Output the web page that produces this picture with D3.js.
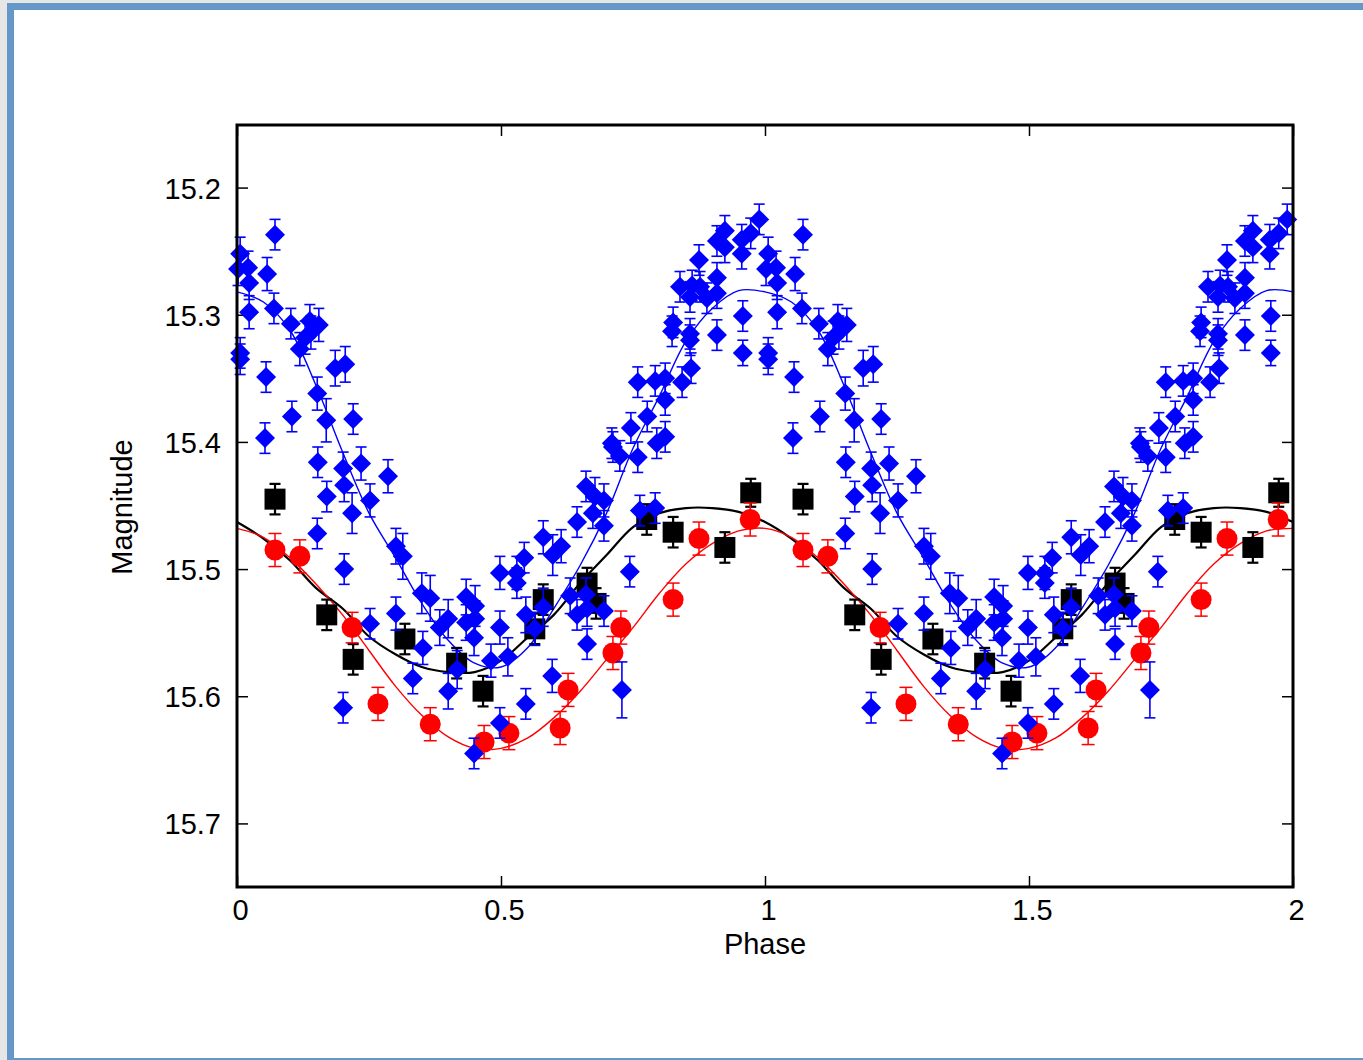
<!DOCTYPE html>
<html>
<head>
<meta charset="utf-8">
<script src="https://cdn.jsdelivr.net/npm/d3@7"></script>
<style>
  body { margin: 0; background: #e6e6e6; overflow: hidden; }
  svg { display: block; }
</style>
</head>
<body>
<svg id="chart" width="1363" height="1060"></svg>
<script>
// phase-folded light curve (phase 0..1, repeated on 1..2)

// [phase, magnitude, error]
var bluePoints = [
  [0.006,15.252,0.013],[0.002,15.264,0.013],[0.021,15.263,0.013],[0.023,15.275,0.013],
  [0.072,15.237,0.012],[0.057,15.268,0.013],[0.023,15.298,0.013],[0.070,15.295,0.012],
  [0.006,15.330,0.012],[0.006,15.335,0.012],[0.055,15.349,0.012],[0.053,15.397,0.012],
  [0.102,15.307,0.012],[0.138,15.305,0.013],[0.155,15.308,0.013],[0.119,15.327,0.013],
  [0.129,15.318,0.013],[0.140,15.314,0.013],[0.186,15.342,0.014],[0.205,15.339,0.014],
  [0.104,15.380,0.012],[0.152,15.362,0.013],[0.169,15.383,0.017],[0.220,15.382,0.012],
  [0.153,15.416,0.012],[0.201,15.421,0.013],[0.235,15.417,0.013],[0.286,15.427,0.013],
  [0.203,15.434,0.013],[0.170,15.443,0.012],[0.218,15.456,0.016],[0.252,15.446,0.013],
  [0.152,15.472,0.012],[0.203,15.500,0.012],[0.301,15.482,0.014],[0.314,15.490,0.018],
  [0.252,15.543,0.012],[0.301,15.535,0.013],[0.350,15.519,0.016],[0.366,15.523,0.018],
  [0.352,15.562,0.013],[0.333,15.586,0.012],[0.201,15.609,0.012],[0.384,15.546,0.014],
  [0.400,15.539,0.015],[0.434,15.522,0.014],[0.451,15.529,0.016],[0.434,15.542,0.014],
  [0.451,15.539,0.014],[0.449,15.554,0.014],[0.400,15.596,0.014],[0.417,15.579,0.015],
  [0.498,15.503,0.013],[0.530,15.503,0.013],[0.530,15.511,0.012],[0.544,15.491,0.012],
  [0.547,15.536,0.014],[0.498,15.546,0.013],[0.481,15.572,0.013],[0.513,15.569,0.015],
  [0.498,15.621,0.012],[0.547,15.606,0.012],[0.449,15.645,0.012],[0.597,15.584,0.013],
  [0.580,15.530,0.015],[0.564,15.547,0.013],[0.580,15.475,0.013],[0.598,15.489,0.016],
  [0.614,15.482,0.013],[0.644,15.463,0.012],[0.631,15.521,0.014],[0.661,15.520,0.013],
  [0.644,15.536,0.012],[0.663,15.531,0.014],[0.695,15.533,0.012],[0.663,15.559,0.012],
  [0.661,15.435,0.012],[0.678,15.443,0.015],[0.695,15.446,0.013],[0.674,15.456,0.012],
  [0.695,15.466,0.012],[0.712,15.404,0.012],[0.729,15.595,0.022],[0.777,15.380,0.012],
  [0.746,15.389,0.012],[0.710,15.401,0.012],[0.725,15.411,0.012],[0.759,15.412,0.012],
  [0.795,15.401,0.012],[0.811,15.396,0.012],[0.811,15.367,0.012],[0.763,15.454,0.012],
  [0.792,15.452,0.012],[0.744,15.502,0.012],[0.826,15.306,0.012],[0.824,15.313,0.012],
  [0.858,15.315,0.012],[0.858,15.320,0.012],[0.860,15.342,0.012],[0.843,15.353,0.012],
  [0.811,15.350,0.012],[0.792,15.352,0.012],[0.759,15.353,0.012],[0.839,15.278,0.012],
  [0.862,15.277,0.012],[0.877,15.278,0.012],[0.858,15.286,0.012],[0.890,15.287,0.012],
  [0.909,15.283,0.012],[0.875,15.257,0.012],[0.909,15.271,0.012],[0.909,15.316,0.012],
  [0.924,15.234,0.012],[0.909,15.242,0.012],[0.924,15.247,0.012],[0.956,15.241,0.012],
  [0.973,15.236,0.012],[0.989,15.225,0.012],[0.956,15.252,0.012],[0.958,15.301,0.012],
  [0.958,15.330,0.010]
];

var blackPoints = [
  [0.072,15.445,0.012],[0.170,15.536,0.012],[0.220,15.571,0.012],[0.318,15.555,0.012],
  [0.416,15.574,0.012],[0.466,15.596,0.012],[0.564,15.547,0.012],[0.580,15.524,0.012],
  [0.663,15.511,0.012],[0.680,15.527,0.012],[0.776,15.461,0.012],[0.826,15.471,0.012],
  [0.924,15.483,0.012],[0.973,15.440,0.011]
];

var redPoints = [
  [0.072,15.485,0.013],[0.119,15.490,0.013],[0.218,15.546,0.012],[0.267,15.606,0.013],
  [0.366,15.622,0.013],[0.468,15.636,0.013],[0.515,15.629,0.013],[0.612,15.625,0.013],
  [0.627,15.595,0.013],[0.712,15.566,0.013],[0.727,15.546,0.013],[0.826,15.524,0.013],
  [0.875,15.476,0.013],[0.972,15.461,0.013]
];

// fitted curves, magnitude every 0.05 in phase from 0 to 1
var curvePhases = d3.range(0, 1.0001, 0.05);
var blackCurve = [15.463,15.476,15.493,15.515,15.531,15.553,15.567,15.577,15.581,15.581,15.572,
                  15.554,15.536,15.511,15.489,15.467,15.456,15.452,15.452,15.455,15.463];
var redCurve   = [15.468,15.475,15.491,15.512,15.536,15.564,15.592,15.615,15.632,15.641,15.641,
                  15.633,15.617,15.596,15.571,15.546,15.519,15.496,15.480,15.470,15.468];
var blueCurve  = [15.282,15.290,15.312,15.356,15.408,15.456,15.491,15.527,15.556,15.574,15.577,
                  15.562,15.531,15.497,15.456,15.405,15.364,15.321,15.295,15.281,15.282];

var xTicks = [0, 0.5, 1, 1.5, 2];
var yTicks = [15.2, 15.3, 15.4, 15.5, 15.6, 15.7];

var svg = d3.select('#chart');
var font = '"Liberation Sans", Arial, Helvetica, sans-serif';

// window frame
svg.append('rect').attr('x', 7).attr('y', 3).attr('width', 1400).attr('height', 1100).attr('fill', '#6697c9');
svg.append('rect').attr('x', 14).attr('y', 10).attr('width', 1400).attr('height', 1048).attr('fill', '#ffffff');

var plotLeft = 237, plotRight = 1293, plotTop = 125, plotBottom = 887;

var x = d3.scaleLinear().domain([0, 2]).range([plotLeft, plotRight]);
var y = d3.scaleLinear().domain([15.15, 15.75]).range([124, 887]);

// repeat one cycle on phase 1..2
function fold(points) {
  var out = [];
  points.forEach(function(p) {
    out.push(p);
    if (p[0] + 1 <= 2) out.push([p[0] + 1, p[1], p[2]]);
  });
  return out;
}
function foldCurve(vals) {
  var out = [];
  curvePhases.forEach(function(ph, i) { out.push([ph, vals[i]]); });
  curvePhases.forEach(function(ph, i) { if (i > 0) out.push([ph + 1, vals[i]]); });
  return out;
}

// axes (ticks inward on all four sides)
var fmt = function(d) { return String(d); };
var gx = svg.append('g').attr('transform', 'translate(0,' + plotBottom + ')')
  .call(d3.axisBottom(x).tickValues(xTicks).tickFormat(fmt).tickSize(-11).tickPadding(12));
svg.append('g').attr('transform', 'translate(0,' + plotTop + ')')
  .call(d3.axisTop(x).tickValues(xTicks).tickFormat('').tickSize(-11));
var gy = svg.append('g').attr('transform', 'translate(' + plotLeft + ',0)')
  .call(d3.axisLeft(y).tickValues(yTicks).tickFormat(d3.format('.1f')).tickSize(-11).tickPadding(16));
svg.append('g').attr('transform', 'translate(' + plotRight + ',0)')
  .call(d3.axisRight(y).tickValues(yTicks).tickFormat('').tickSize(-11));

svg.selectAll('.domain').remove();
svg.selectAll('.tick line').attr('stroke', '#000').attr('stroke-width', 1.5);
svg.selectAll('.tick text').attr('font-family', font).attr('font-size', 29).attr('fill', '#000');
gx.selectAll('.tick text').attr('dx', 3);
gy.selectAll('.tick text').attr('dy', '0.36em');

// fit curves
var line = d3.line()
  .x(function(d) { return x(d[0]); })
  .y(function(d) { return y(d[1]); })
  .curve(d3.curveCatmullRom.alpha(0.5));

svg.append('path').datum(foldCurve(blackCurve)).attr('d', line)
  .attr('fill', 'none').attr('stroke', '#000').attr('stroke-width', 2.2);
svg.append('path').datum(foldCurve(redCurve)).attr('d', line)
  .attr('fill', 'none').attr('stroke', '#ff0000').attr('stroke-width', 1.4);
svg.append('path').datum(foldCurve(blueCurve)).attr('d', line)
  .attr('fill', 'none').attr('stroke', '#0000ff').attr('stroke-width', 1.4);

// error bars + markers
function drawSeries(points, color, barWidth, cap, symbolType, size, rotate) {
  var g = svg.append('g');
  var data = fold(points);
  var bars = g.selectAll('g.err').data(data).enter().append('g')
    .attr('stroke', color).attr('stroke-width', barWidth);
  bars.append('line')
    .attr('x1', function(d) { return x(d[0]); })
    .attr('x2', function(d) { return x(d[0]); })
    .attr('y1', function(d) { return y(d[1] - d[2]); })
    .attr('y2', function(d) { return y(d[1] + d[2]); });
  bars.append('line')
    .attr('x1', function(d) { return x(d[0]) - cap; })
    .attr('x2', function(d) { return x(d[0]) + cap; })
    .attr('y1', function(d) { return y(d[1] - d[2]); })
    .attr('y2', function(d) { return y(d[1] - d[2]); });
  bars.append('line')
    .attr('x1', function(d) { return x(d[0]) - cap; })
    .attr('x2', function(d) { return x(d[0]) + cap; })
    .attr('y1', function(d) { return y(d[1] + d[2]); })
    .attr('y2', function(d) { return y(d[1] + d[2]); });

  g.selectAll('path.mark').data(data).enter().append('path')
    .attr('d', d3.symbol().type(symbolType).size(size))
    .attr('transform', function(d) {
      return 'translate(' + x(d[0]) + ',' + y(d[1]) + ') rotate(' + rotate + ')';
    })
    .attr('fill', color);
}

drawSeries(blackPoints, '#000000', 2.2, 5.5, d3.symbolSquare, 441, 0);
drawSeries(redPoints, '#ff0000', 1.5, 6.5, d3.symbolCircle, 346, 0);
drawSeries(bluePoints, '#0000ff', 1.6, 5.5, d3.symbolSquare, 200, 45);

// plot border
svg.append('rect').attr('x', plotLeft).attr('y', plotTop)
  .attr('width', plotRight - plotLeft).attr('height', plotBottom - plotTop)
  .attr('fill', 'none').attr('stroke', '#000').attr('stroke-width', 3);

// axis titles
svg.append('text').attr('x', 765).attr('y', 954)
  .attr('text-anchor', 'middle').attr('font-family', font).attr('font-size', 29)
  .text('Phase');
svg.append('text').attr('transform', 'translate(132,507) rotate(-90)')
  .attr('text-anchor', 'middle').attr('font-family', font).attr('font-size', 29)
  .text('Magnitude');
</script>
</body>
</html>
